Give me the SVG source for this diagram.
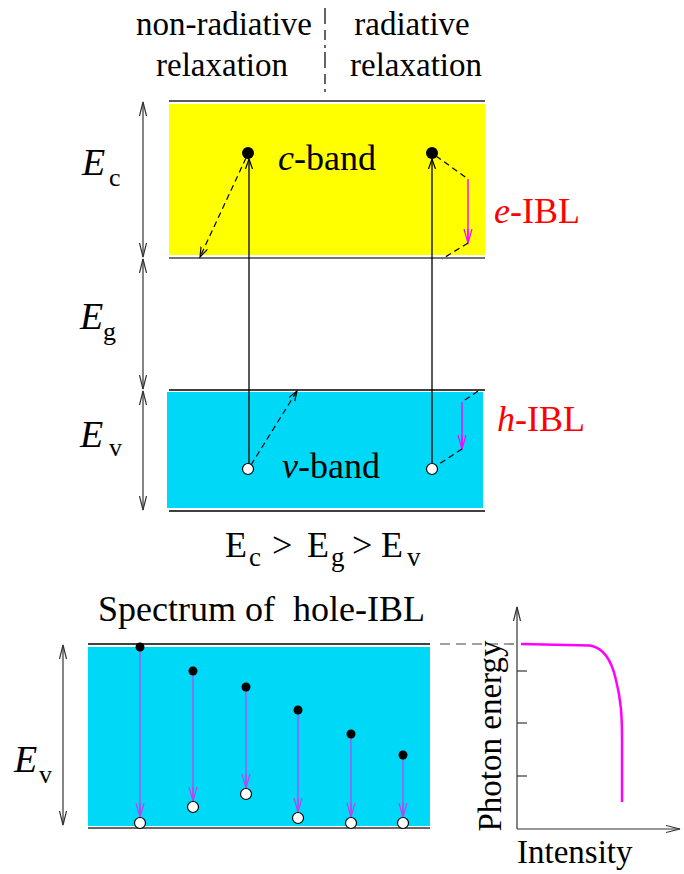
<svg xmlns="http://www.w3.org/2000/svg" width="684" height="874" viewBox="0 0 684 874" font-family="'Liberation Serif', Tinos, 'DejaVu Serif', 'Noto Serif', serif">
<style>
text{font-family:"Liberation Serif",Tinos,"DejaVu Serif","Noto Serif",serif;fill:#000}
.it{font-style:italic}
.red{fill:#f00}
.ln{stroke:#000;stroke-width:1.3;fill:none}
.ax{stroke:#333;stroke-width:1.2;fill:none}
.ds{stroke:#000;stroke-width:1.2;fill:none;stroke-dasharray:6,4}
.mg{stroke:#f0f;stroke-width:1.4;fill:none}
.mv{stroke:#b050f0;stroke-width:1.4;fill:none}
.dot{fill:#000}
.hole{fill:#fff;stroke:#000;stroke-width:1.2}
</style>
<defs>
<marker id="ak" markerWidth="12" markerHeight="12" refX="10" refY="6" orient="auto" markerUnits="userSpaceOnUse">
<path d="M0,2.5 L10,6 L0,9.5" fill="none" stroke="#000" stroke-width="1.2"/>
</marker>
<marker id="ak2" markerWidth="16" markerHeight="12" refX="14" refY="6" orient="auto-start-reverse" markerUnits="userSpaceOnUse">
<path d="M0,2.5 L14,6 L0,9.5" fill="none" stroke="#333" stroke-width="1.2"/>
</marker>
<marker id="am" markerWidth="16" markerHeight="12" refX="14" refY="6" orient="auto" markerUnits="userSpaceOnUse">
<path d="M0,2 L14,6 L0,10 M0,6 L14,6" fill="none" stroke="#f0f" stroke-width="1.2"/>
</marker>
<marker id="av" markerWidth="16" markerHeight="12" refX="14" refY="6" orient="auto" markerUnits="userSpaceOnUse">
<path d="M0,2 L14,6 L0,10 M0,6 L14,6" fill="none" stroke="#c040f0" stroke-width="1.2"/>
</marker>
</defs>

<g id="header">
<text x="224" y="35" font-size="33" text-anchor="middle">non-radiative</text>
<text x="222" y="76" font-size="33" text-anchor="middle">relaxation</text>
<text x="412" y="35" font-size="33" text-anchor="middle">radiative</text>
<text x="416" y="76" font-size="33" text-anchor="middle">relaxation</text>
<line x1="325" y1="8" x2="325" y2="92" stroke="#000" stroke-width="1.2" stroke-dasharray="16,6,10,5,3,4"/>
</g>

<g id="c-band">
<rect x="169" y="104" width="316" height="151" fill="#ffff00"/>
<line x1="169" y1="101" x2="485" y2="101" stroke="#222" stroke-width="1.5"/>
<line x1="169" y1="258" x2="485" y2="258" stroke="#444" stroke-width="1.5"/>
<text x="278" y="170" font-size="36"><tspan class="it">c</tspan>-band</text>
</g>

<g id="v-band">
<rect x="167" y="392" width="316" height="116" fill="#00d8f8"/>
<line x1="169" y1="390" x2="485" y2="390" stroke="#000" stroke-width="1.5"/>
<line x1="169" y1="511" x2="485" y2="511" stroke="#000" stroke-width="1.5"/>
<text x="282" y="478" font-size="36"><tspan class="it">v</tspan>-band</text>
</g>

<g id="labels">
<text x="82" y="175" font-size="38" class="it">E</text><text x="109" y="186" font-size="26">c</text>
<text x="80" y="329" font-size="38" class="it">E</text><text x="103" y="340" font-size="26">g</text>
<text x="80" y="447" font-size="38" class="it">E</text><text x="109" y="456" font-size="26">v</text>
<text x="494" y="223" font-size="36" class="red"><tspan class="it">e</tspan>-IBL</text>
<text x="497" y="431" font-size="36" class="red"><tspan class="it">h</tspan>-IBL</text>
<text x="225" y="557" font-size="36">E</text><text x="249" y="566" font-size="27">c</text>
<text x="272" y="557" font-size="36">&gt;</text>
<text x="307" y="557" font-size="36">E</text><text x="331" y="566" font-size="27">g</text>
<text x="352" y="557" font-size="36">&gt;</text>
<text x="381" y="557" font-size="36">E</text><text x="407" y="566" font-size="27">v</text>
</g>

<g id="connectors">
<line x1="143" y1="102" x2="143" y2="257" class="ax" marker-start="url(#ak2)" marker-end="url(#ak2)"/>
<line x1="143" y1="259" x2="143" y2="389" class="ax" marker-start="url(#ak2)" marker-end="url(#ak2)"/>
<line x1="143" y1="391" x2="143" y2="510" class="ax" marker-start="url(#ak2)" marker-end="url(#ak2)"/>
<line x1="249" y1="464" x2="249" y2="159" class="ln" marker-end="url(#ak)"/>
<line x1="432" y1="464" x2="432" y2="159" class="ln" marker-end="url(#ak)"/>
<line x1="246" y1="158" x2="200" y2="257" class="ds" marker-end="url(#ak)"/>
<line x1="251" y1="465" x2="297" y2="391" class="ds" marker-end="url(#ak)"/>
<polyline points="436,156 468,179" class="ds"/>
<line x1="468" y1="179" x2="468" y2="243" class="mg" marker-end="url(#am)"/>
<polyline points="468,243 442,259" class="ds"/>
<polyline points="478,391 462,402" class="ds"/>
<line x1="462" y1="402" x2="462" y2="449" class="mg" marker-end="url(#am)"/>
<polyline points="462,449 436,466" class="ds"/>
</g>

<g id="carriers">
<circle cx="248" cy="153" r="6" class="dot"/>
<circle cx="432" cy="153" r="6" class="dot"/>
<circle cx="248" cy="469" r="5.5" class="hole"/>
<circle cx="432" cy="469" r="5.5" class="hole"/>
</g>

<g id="spectrum">
<text x="98" y="621" font-size="36" xml:space="preserve">Spectrum of  hole-IBL</text>
<rect x="88" y="647" width="342" height="179" fill="#00d8f8"/>
<line x1="88" y1="644" x2="430" y2="644" stroke="#000" stroke-width="1.5"/>
<line x1="88" y1="828" x2="430" y2="828" stroke="#333" stroke-width="1.5"/>
<line x1="63" y1="645" x2="63" y2="825" class="ax" marker-start="url(#ak2)" marker-end="url(#ak2)"/>
<text x="14" y="772" font-size="38" class="it">E</text><text x="39" y="783" font-size="26">v</text>
<line x1="140" y1="650" x2="140" y2="817" class="mv" marker-end="url(#av)"/>
<line x1="193" y1="674" x2="193" y2="801" class="mv" marker-end="url(#av)"/>
<line x1="246" y1="690" x2="246" y2="788" class="mv" marker-end="url(#av)"/>
<line x1="298" y1="713" x2="298" y2="812" class="mv" marker-end="url(#av)"/>
<line x1="351" y1="737" x2="351" y2="817" class="mv" marker-end="url(#av)"/>
<line x1="403" y1="758" x2="403" y2="817" class="mv" marker-end="url(#av)"/>
<circle cx="140" cy="647" r="4.5" class="dot"/>
<circle cx="193" cy="671" r="4.5" class="dot"/>
<circle cx="246" cy="687" r="4.5" class="dot"/>
<circle cx="298" cy="710" r="4.5" class="dot"/>
<circle cx="351" cy="734" r="4.5" class="dot"/>
<circle cx="403" cy="755" r="4.5" class="dot"/>
<circle cx="140" cy="823" r="5.5" class="hole"/>
<circle cx="193" cy="807" r="5.5" class="hole"/>
<circle cx="246" cy="794" r="5.5" class="hole"/>
<circle cx="298" cy="818" r="5.5" class="hole"/>
<circle cx="351" cy="823" r="5.5" class="hole"/>
<circle cx="403" cy="823" r="5.5" class="hole"/>
<line x1="440" y1="644" x2="516" y2="644" stroke="#444" stroke-width="1.2" stroke-dasharray="10,6"/>
</g>

<g id="graph">
<line x1="517" y1="829" x2="517" y2="607" class="ax" marker-end="url(#ak2)"/>
<line x1="517" y1="829" x2="680" y2="829" class="ax" marker-end="url(#ak2)"/>
<line x1="517" y1="671" x2="527" y2="671" class="ax"/>
<line x1="517" y1="723" x2="527" y2="723" class="ax"/>
<line x1="517" y1="776" x2="527" y2="776" class="ax"/>
<path d="M521,644 L590,645.5 C605,648 612,662 616,680 C621,700 622,715 622,740 L622,802" fill="none" stroke="#f0f" stroke-width="2.5"/>
<text x="0" y="0" font-size="33" text-anchor="middle" transform="translate(501,736) rotate(-90)">Photon energy</text>
<text x="517" y="863" font-size="33">Intensity</text>
</g>
</svg>
